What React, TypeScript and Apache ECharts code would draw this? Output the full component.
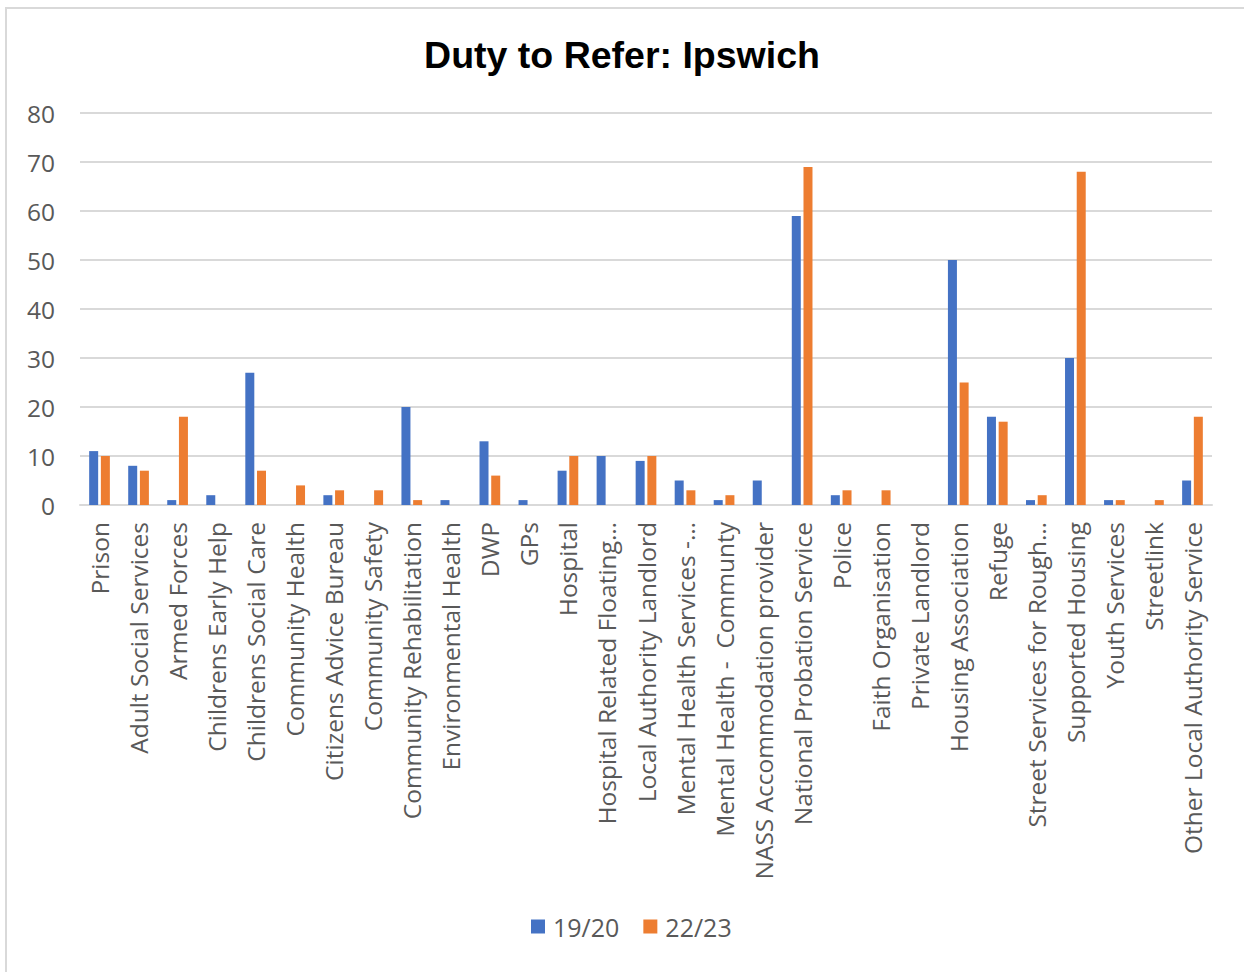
import React, { useEffect, useRef } from "react";
import * as echarts from "echarts";

const categories = [
  "Prison",
  "Adult Social Services",
  "Armed Forces",
  "Childrens Early Help",
  "Childrens Social Care",
  "Community Health",
  "Citizens Advice Bureau",
  "Community Safety",
  "Community Rehabilitation",
  "Environmental Health",
  "DWP",
  "GPs",
  "Hospital",
  "Hospital Related Floating…",
  "Local Authority Landlord",
  "Mental Health Services -…",
  "Mental Health -  Communty",
  "NASS Accommodation provider",
  "National Probation Service",
  "Police",
  "Faith Organisation",
  "Private Landlord",
  "Housing Association",
  "Refuge",
  "Street Services for Rough…",
  "Supported Housing",
  "Youth Services",
  "Streetlink",
  "Other Local Authority Service",
];

const series1920 = [11, 8, 1, 2, 27, 0, 2, 0, 20, 1, 13, 1, 7, 10, 9, 5, 1, 5, 59, 2, 0, 0, 50, 18, 1, 30, 1, 0, 5];
const series2223 = [10, 7, 18, 0, 7, 4, 3, 3, 1, 0, 6, 0, 10, 0, 10, 3, 2, 0, 69, 3, 3, 0, 25, 17, 2, 68, 1, 1, 18];

const seriesNames = ["19/20", "22/23"];
const yTicks = { min: 0, max: 80, interval: 10 };

export default function App() {
  const ref = useRef<HTMLDivElement>(null);
  useEffect(() => {
    if (!ref.current) return;
    const chart = echarts.init(ref.current, null, { renderer: "svg" });
    const font = "'Open Sans', 'Noto Sans', sans-serif";
    chart.setOption({
      animation: false,
      backgroundColor: "#ffffff",
      title: {
        text: "Duty to Refer: Ipswich",
        left: "center",
        top: 31,
        textStyle: {
          fontFamily: "'Liberation Sans', Arial, sans-serif",
          fontWeight: "bold",
          fontSize: 37.5,
          color: "#000000",
        },
      },
      graphic: [
        {
          type: "rect",
          shape: { x: 6, y: 8, width: 1300, height: 1000 },
          style: { fill: "none", stroke: "#d9d9d9", lineWidth: 2 },
          silent: true,
        },
      ],
      legend: {
        bottom: 28,
        left: 526,
        itemWidth: 14,
        itemHeight: 14,
        itemGap: 24,
        icon: "rect",
        textStyle: { fontFamily: font, fontSize: 25, color: "#595959", padding: [0, 0, 0, 3] },
        data: seriesNames,
      },
      grid: { left: 80, right: 32, top: 113, bottom: 467, containLabel: false },
      xAxis: {
        type: "category",
        data: categories,
        axisLine: { lineStyle: { color: "#d9d9d9", width: 2 } },
        axisTick: { show: false },
        axisLabel: {
          rotate: 90,
          interval: 0,
          margin: 17,
          fontFamily: font,
          fontSize: 24.5,
          color: "#595959",
        },
      },
      yAxis: {
        type: "value",
        min: yTicks.min,
        max: yTicks.max,
        interval: yTicks.interval,
        axisLine: { show: false },
        axisTick: { show: false },
        splitLine: { lineStyle: { color: "#d9d9d9", width: 2 } },
        axisLabel: {
          margin: 25,
          fontFamily: font,
          fontSize: 24.5,
          color: "#595959",
        },
      },
      series: [
        {
          name: seriesNames[0],
          type: "bar",
          data: series1920,
          barWidth: 9,
          barGap: "30%",
          itemStyle: { color: "#4472C4" },
        },
        {
          name: seriesNames[1],
          type: "bar",
          data: series2223,
          barWidth: 9,
          barGap: "30%",
          itemStyle: { color: "#ED7D31" },
        },
      ],
    });
    return () => chart.dispose();
  }, []);
  return (
    <div
      ref={ref}
      style={{ position: "absolute", left: 0, top: 0, width: 1244, height: 972 }}
    />
  );
}
